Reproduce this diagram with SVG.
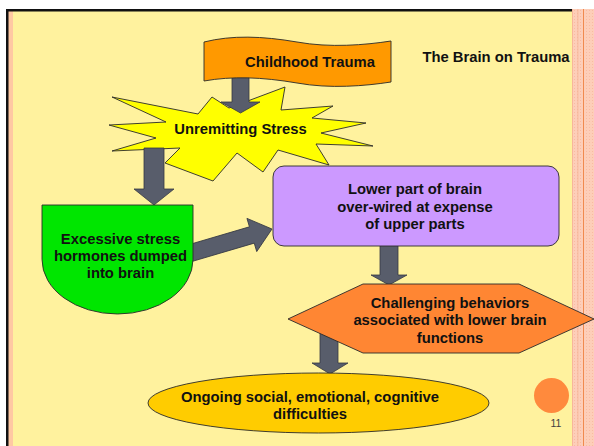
<svg xmlns="http://www.w3.org/2000/svg" width="594" height="446" viewBox="0 0 594 446">
<defs>
<pattern id="dots" width="3" height="3" patternUnits="userSpaceOnUse">
<rect width="3" height="3" fill="#FDCEB9"/>
<rect x="1" y="1" width="1" height="1" fill="#F9BBA1"/>
</pattern>
<style>
.lbl{font-family:"Liberation Sans",Arial,sans-serif;font-weight:bold;font-size:14.8px;fill:#111;text-anchor:middle}
.arr{fill:#585D6B;stroke:#363943;stroke-width:0.8}
.shp{stroke:#2a2a2a;stroke-width:0.9}
</style>
</defs>
<rect width="594" height="446" fill="#FFFFFF"/>
<rect x="13" y="11" width="559" height="435" fill="#FFF29E"/>
<rect x="8" y="11" width="5" height="435" fill="#FFC9A3"/>
<rect x="572" y="9" width="22" height="437" fill="url(#dots)"/>
<rect x="572" y="9" width="1" height="437" fill="#F7B69A"/>
<rect x="577.5" y="9" width="0.8" height="437" fill="#F6B295"/>
<rect x="583" y="9" width="1" height="437" fill="#F08A4E"/>
<rect x="6" y="9" width="566" height="2.5" fill="#111"/>
<rect x="6" y="9" width="2.5" height="437" fill="#111"/>

<g id="star">
<polygon class="shp" fill="#FFFF00" points="112,97 198,114 212,97 229,108 285,87 281,110 333,106 312,118 366,123 321,133 373,146 316,144 329,165 278,150 263,172 237,153 213,181 165,163 180,148 112,151 156,138 109,125 166,122"/>
<text class="lbl" x="240.5" y="134">Unremitting Stress</text>
</g>

<g id="connectors">
<polygon class="arr" points="232,76 249,76 249,102 260,102 240.5,113 221,102 232,102"/>
<polygon class="arr" points="144,148 164,148 164,189 174,189 154,205 134,189 144,189"/>
<polygon class="arr" points="380,244 398,244 398,275 407,275 389,285 371,275 380,275"/>
<polygon class="arr" points="320,328 338,328 338,363 348,363 330,374 312,363 320,363"/>
<polygon class="arr" transform="translate(194,252) rotate(-16.4)" points="-4,-8.5 60.3,-8.5 60.3,-17.3 81.3,0 60.3,17.3 60.3,8.5 -4,8.5"/>
</g>

<g id="childhood-trauma">
<path class="shp" fill="#FF9900" d="M204,42 C232,35 262,36 297,42 C330,48 365,45 391,41 L391,82 C365,86 330,89 297,83 C262,77 232,76 204,81 Z"/>
<text class="lbl" x="310" y="67">Childhood Trauma</text>
</g>

<g id="title">
<text class="lbl" x="496" y="62">The Brain on Trauma</text>
</g>

<g id="stress-hormones">
<path class="shp" fill="#00E600" d="M42,205 L193,205 L193,259.5 A75.5,54.5 0 0 1 42,259.5 Z"/>
<text class="lbl" x="120.5" y="243.5">Excessive stress</text>
<text class="lbl" x="120.5" y="260.7">hormones dumped</text>
<text class="lbl" x="120.5" y="277.9">into brain</text>
</g>

<g id="lower-brain">
<rect class="shp" fill="#CC99FF" x="273" y="166" width="286" height="80" rx="11" ry="11"/>
<text class="lbl" x="415" y="194.3">Lower part of brain</text>
<text class="lbl" x="415" y="211.5">over-wired at expense</text>
<text class="lbl" x="415" y="228.7">of upper parts</text>
</g>

<g id="challenging-behaviors">
<polygon class="shp" fill="#FF8633" points="288,319 363,284 519,284 594,319 519,353 363,353"/>
<text class="lbl" x="450" y="307.5">Challenging behaviors</text>
<text class="lbl" x="450" y="325">associated with lower brain</text>
<text class="lbl" x="450" y="342.5">functions</text>
</g>

<g id="difficulties">
<ellipse class="shp" fill="#FFCC00" cx="318.5" cy="403" rx="170.5" ry="30"/>
<text class="lbl" x="310" y="401.7">Ongoing social, emotional, cognitive</text>
<text class="lbl" x="310" y="418.5">difficulties</text>
</g>

<g id="page-number">
<circle cx="551.5" cy="395.5" r="17.5" fill="#FF8A3D"/>
<text x="556" y="427.3" style="font-family:'Liberation Sans',Arial,sans-serif;font-size:10.5px;fill:#404040;text-anchor:middle">11</text>
</g>
</svg>
